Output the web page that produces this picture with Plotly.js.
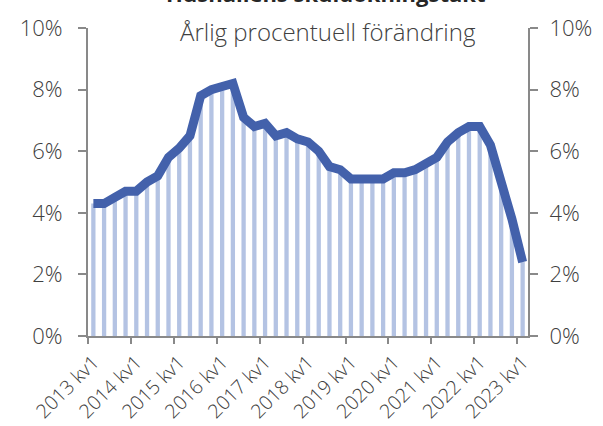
<!DOCTYPE html>
<html>
<head>
<meta charset="utf-8">
<script src="https://cdn.plot.ly/plotly-3.0.1.min.js"></script>
<style>html,body{margin:0;padding:0;background:#fff}#chart{width:603px;height:426px}</style>
</head>
<body>
<div id="chart"></div>
<script>
// Quarterly labels 2013 kv1 .. 2023 kv1
const years = [2013,2014,2015,2016,2017,2018,2019,2020,2021,2022,2023];
const quarters = [];
years.forEach(y => { for (let q = 1; q <= 4; q++) { if (y === 2023 && q > 1) break; quarters.push(y + ' kv' + q); } });

// Annual percentage change in household debt (%)
const growth = [
  4.3, 4.3, 4.5, 4.7, 4.7, 5.0, 5.2, 5.8, 6.1, 6.5,
  7.8, 8.0, 8.1, 8.2, 7.1, 6.8, 6.9, 6.5, 6.6, 6.4,
  6.3, 6.0, 5.5, 5.4, 5.1, 5.1, 5.1, 5.1, 5.3, 5.3,
  5.4, 5.6, 5.8, 6.3, 6.6, 6.8, 6.8, 6.2, 5.1, 3.8,
  2.4
];

const yTicks = [0, 2, 4, 6, 8, 10];
const yTickText = yTicks.map(v => v + '%');

const idx = quarters.map((_, i) => i);
const labelIdx = idx.filter(i => i % 4 === 0);
const labelText = labelIdx.map(i => quarters[i]);
const boundaryIdx = labelIdx.map(i => i - 0.5);

const font = {family: '"Open Sans", sans-serif', weight: 300, color: '#404040'};
const axisColor = '#898989';

const traces = [
  {type: 'bar', x: idx, y: growth, marker: {color: '#b4c3e3'}, hoverinfo: 'skip', showlegend: false},
  {type: 'scatter', mode: 'lines', x: idx, y: growth, line: {color: '#4361ab', width: 9}, hoverinfo: 'skip', showlegend: false},
  {type: 'scatter', mode: 'markers', x: [0], y: [0], xaxis: 'x2', yaxis: 'y', marker: {opacity: 0}, hoverinfo: 'skip', showlegend: false},
  {type: 'scatter', mode: 'markers', x: [0], y: [0], xaxis: 'x', yaxis: 'y2', marker: {opacity: 0}, hoverinfo: 'skip', showlegend: false}
];

const xRange = [-0.5, quarters.length - 0.5];
const yRange = [0, 10];

const layout = {
  width: 603, height: 426,
  margin: {l: 88, r: 75, t: 28, b: 90},
  paper_bgcolor: '#fff', plot_bgcolor: '#fff',
  bargap: 0.6,
  showlegend: false,
  font: Object.assign({size: 18}, font),
  xaxis: {
    range: xRange, tickmode: 'array', tickvals: labelIdx, ticktext: labelText,
    tickangle: -45, ticks: '', showgrid: false, zeroline: false,
    showline: true, linecolor: axisColor, linewidth: 2, ticklabelstandoff: 5,
    tickfont: Object.assign({size: 19.5}, font), fixedrange: true
  },
  xaxis2: {
    overlaying: 'x', anchor: 'y', side: 'bottom', range: xRange,
    tickmode: 'array', tickvals: boundaryIdx, showticklabels: false,
    ticks: 'outside', ticklen: 7, tickwidth: 2, tickcolor: axisColor,
    showgrid: false, zeroline: false, showline: false
  },
  yaxis: {
    range: yRange, tickmode: 'array', tickvals: yTicks, ticktext: yTickText,
    ticks: 'outside', ticklen: 8, tickwidth: 2, tickcolor: axisColor,
    showline: true, linecolor: axisColor, linewidth: 2,
    showgrid: false, zeroline: false, ticklabelstandoff: 11,
    tickfont: Object.assign({size: 22}, font)
  },
  yaxis2: {
    overlaying: 'y', side: 'right', anchor: 'x', range: yRange,
    tickmode: 'array', tickvals: yTicks, ticktext: yTickText,
    ticks: 'outside', ticklen: 8, tickwidth: 2, tickcolor: axisColor,
    showline: true, linecolor: axisColor, linewidth: 2,
    showgrid: false, zeroline: false, ticklabelstandoff: 7,
    tickfont: Object.assign({size: 22}, font)
  },
  annotations: [
    {text: '<b>Hushållens skuldökningstakt</b>', xref: 'paper', yref: 'paper',
     x: 0.54, y: 1.06, xanchor: 'center', yanchor: 'bottom', showarrow: false,
     font: {family: '"Open Sans", sans-serif', size: 22, color: '#262626', weight: 700}},
    {text: 'Årlig procentuell förändring', xref: 'paper', yref: 'paper',
     x: 0.545, y: 0.99, xanchor: 'center', yanchor: 'middle', showarrow: false,
     font: Object.assign({size: 24}, font)}
  ]
};

Plotly.newPlot('chart', traces, layout, {staticPlot: true, displayModeBar: false});
</script>
</body>
</html>
